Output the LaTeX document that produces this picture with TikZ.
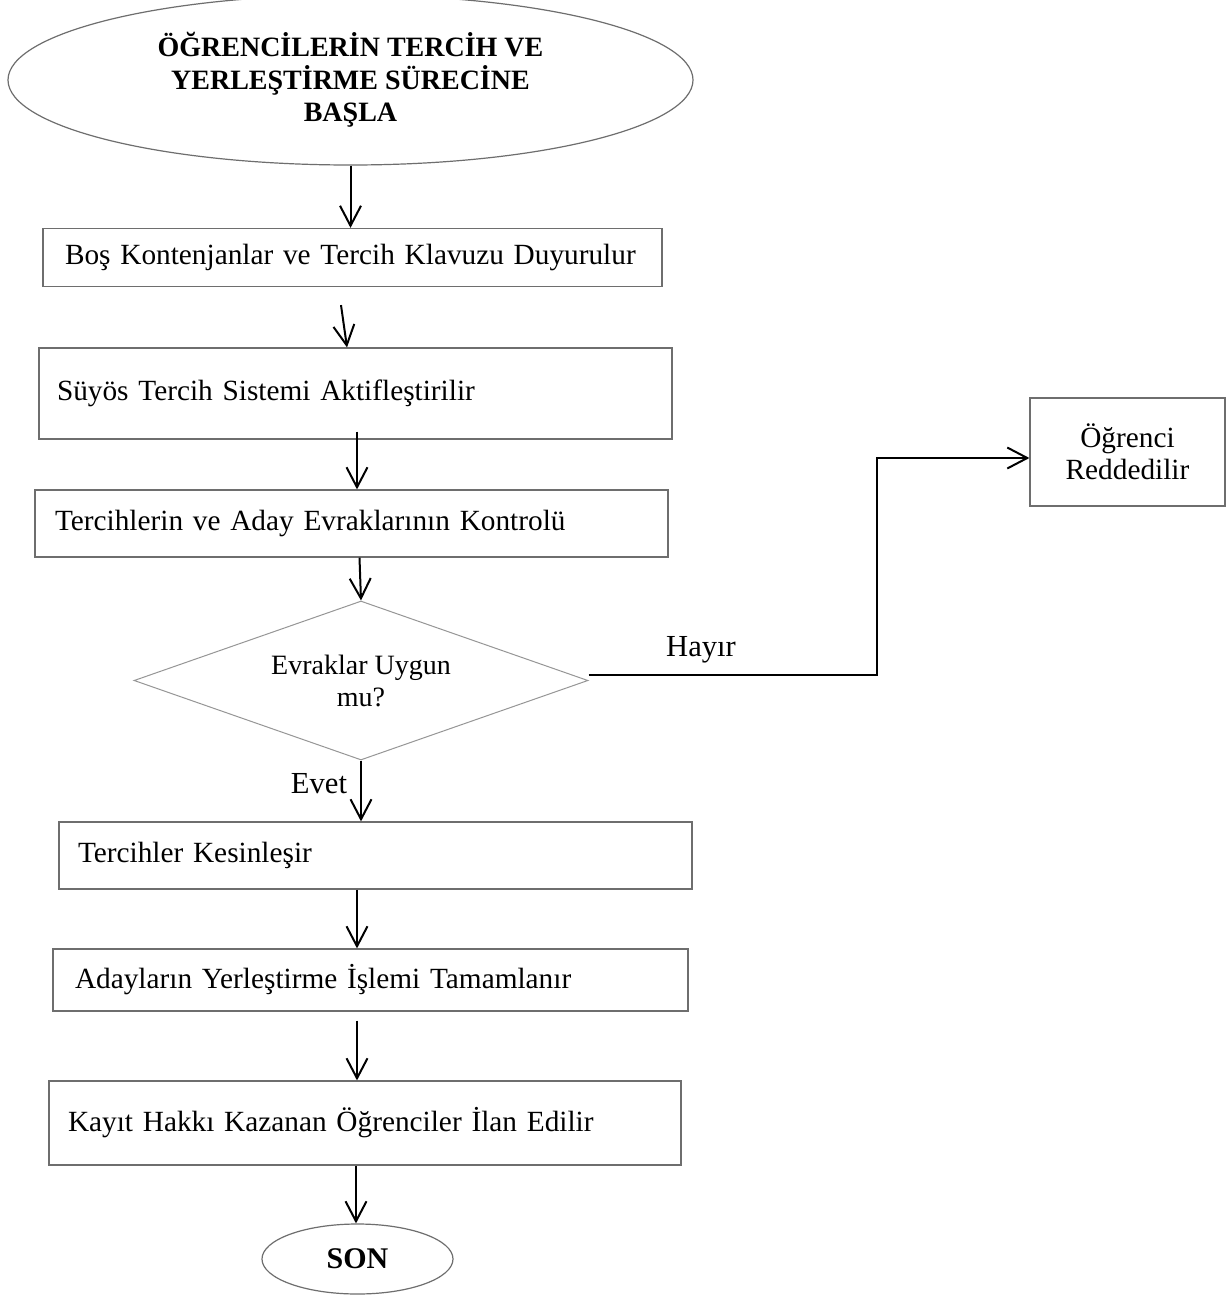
\documentclass[tikz,border=0pt]{standalone}
\usepackage{fontspec}
\setmainfont{Liberation Serif}
\usetikzlibrary{shapes.geometric,arrows.meta,calc}
\definecolor{boxgray}{RGB}{110,110,110}
\definecolor{diagray}{RGB}{150,150,150}
\begin{document}
\begin{tikzpicture}[x=0.5pt,y=-0.5pt,
  procbox/.style={draw=boxgray,line width=0.6pt,rectangle,align=left,inner ysep=0pt,
    font=\fontsize{14.65}{16}\selectfont},
  rejbox/.style={draw=boxgray,line width=0.6pt,rectangle,align=center,inner sep=0pt,
    font=\fontsize{14.65}{16}\selectfont},
  startell/.style={draw=boxgray,line width=0.6pt,ellipse,align=center,inner sep=0pt,
    font=\fontsize{14}{16.2}\selectfont\bfseries},
  endell/.style={draw=boxgray,line width=0.6pt,ellipse,align=center,inner sep=0pt,
    font=\fontsize{15}{17}\selectfont\bfseries},
  decision/.style={draw=diagray,line width=0.5pt,diamond,aspect=2.85,align=center,inner sep=0pt,
    font=\fontsize{14}{16}\selectfont},
  lbl/.style={inner sep=0pt,font=\fontsize{15.3}{17}\selectfont},
  arr/.style={draw=black,line width=1pt,-{Straight Barb[length=10pt,width=10.5pt]}}
]
\useasboundingbox (0,0) rectangle (1231,1301);
\fill[white] (0,0) rectangle (1231,1301);

\node[startell,minimum width=342.5pt,minimum height=85pt] (start) at (350.5,80)
  {ÖĞRENCİLERİN TERCİH VE\\YERLEŞTİRME SÜRECİNE\\BAŞLA};

\node[procbox,minimum height=29pt,text width=287.5pt,inner xsep=11pt] (b1) at (352.5,257.5)
  {Boş Kontenjanlar ve Tercih Klavuzu Duyurulur};
\node[procbox,minimum height=45.5pt,text width=298.5pt,inner xsep=9pt] (b2) at (355.5,393.5)
  {Süyös Tercih Sistemi Aktifleştirilir};
\node[procbox,minimum height=33.5pt,text width=296.5pt,inner xsep=10pt] (b3) at (351.5,523.5)
  {Tercihlerin ve Aday Evraklarının Kontrolü};
\node[decision,minimum width=227pt,minimum height=79.5pt] (dec) at (361,680.5)
  {Evraklar Uygun\\mu?};
\node[procbox,minimum height=33.5pt,text width=297.5pt,inner xsep=9.5pt] (b4) at (375.5,855.5)
  {Tercihler Kesinleşir};
\node[procbox,minimum height=31pt,text width=295.5pt,inner xsep=11pt] (b5) at (370.5,980)
  {Adayların Yerleştirme İşlemi Tamamlanır};
\node[procbox,minimum height=42pt,text width=297pt,inner xsep=9.5pt] (b6) at (365,1123)
  {Kayıt Hakkı Kazanan Öğrenciler İlan Edilir};
\node[endell,minimum width=95.5pt,minimum height=35pt] (son) at (357.5,1259) {SON};

\node[rejbox,minimum width=97.5pt,minimum height=54pt] (rej) at (1127.5,452)
  {Öğrenci\\Reddedilir};

\node[lbl] (hayir) at (701,650) {Hayır};
\node[lbl] (evet) at (319,784) {Evet};

\coordinate (hb) at ($(rej.west)+(-152,6)$);

\draw[arr] (start.south) -- (start.south |- b1.north);
\draw[arr] ($(b1.south)+(-11.5,18)$) -- ($(b2.north)+(-8.5,0)$);
\draw[arr] ($(b2.south)+(1.5,-8)$) -- ($(b3.north)+(5.5,0)$);
\draw[arr] ($(b3.south)+(8,0)$) -- (dec.north);
\draw[arr] (dec.south) -- (dec.south |- b4.north);
\draw[arr] ($(b4.south)+(-18.5,0)$) -- ($(b5.north)+(-13.5,0)$);
\draw[arr] ($(b5.south)+(-13.5,9)$) -- ($(b6.north)+(-8,0)$);
\draw[arr] ($(b6.south)+(-9,0)$) -- ($(son.north)+(-1.5,0)$);
\draw[arr] ($(dec.east)+(0,-6)$) -| (hb) -- ($(rej.west)+(0,6)$);
\end{tikzpicture}
\end{document}
